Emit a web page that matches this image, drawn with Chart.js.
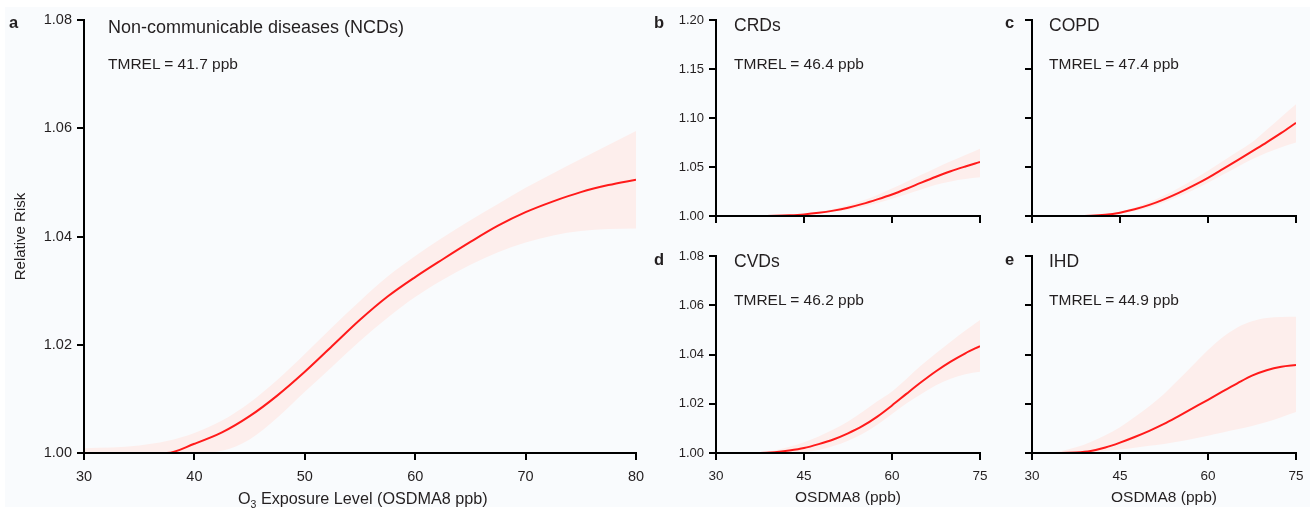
<!DOCTYPE html>
<html><head><meta charset="utf-8">
<script src="https://cdn.jsdelivr.net/npm/chart.js@4.4.0/dist/chart.umd.min.js"></script>
<style>
html,body{margin:0;padding:0;background:#fff;}
#wrap{position:relative;width:1315px;height:512px;overflow:hidden;background:#fff;font-family:"Liberation Sans",Arial,sans-serif;color:#231f20;}
#bg{position:absolute;left:5px;top:7px;width:1305px;height:500px;background:#f9fbfd;}
canvas{position:absolute;left:0;top:0;}
.t{position:absolute;white-space:nowrap;line-height:1;}
.ttl{font-size:17.5px;}
.tm{font-size:15.5px;}
.lt{font-size:16.5px;font-weight:bold;}
</style></head>
<body><div id="wrap"><div id="bg"></div>
<canvas id="ca" width="1315" height="512"></canvas>
<canvas id="cb" width="1315" height="512"></canvas>
<canvas id="cc" width="1315" height="512"></canvas>
<canvas id="cd" width="1315" height="512"></canvas>
<canvas id="ce" width="1315" height="512"></canvas>
<div class="t lt" style="left:9px;top:14px;">a</div>
<div class="t ttl" style="left:108px;top:18px;font-size:18px;">Non-communicable diseases (NCDs)</div>
<div class="t tm" style="left:108px;top:56px;">TMREL = 41.7 ppb</div>
<div class="t lt" style="left:654px;top:14px;">b</div>
<div class="t ttl" style="left:734px;top:17px;">CRDs</div>
<div class="t tm" style="left:734px;top:55.5px;">TMREL = 46.4 ppb</div>
<div class="t lt" style="left:1005px;top:14px;">c</div>
<div class="t ttl" style="left:1049px;top:17px;">COPD</div>
<div class="t tm" style="left:1049px;top:55.5px;">TMREL = 47.4 ppb</div>
<div class="t lt" style="left:654px;top:251px;">d</div>
<div class="t ttl" style="left:734px;top:253px;">CVDs</div>
<div class="t tm" style="left:734px;top:291.5px;">TMREL = 46.2 ppb</div>
<div class="t lt" style="left:1005px;top:251px;">e</div>
<div class="t ttl" style="left:1049px;top:253px;">IHD</div>
<div class="t tm" style="left:1049px;top:291.5px;">TMREL = 44.9 ppb</div>
<div class="t" style="left:238px;top:490px;font-size:16.2px;">O<sub style="font-size:10.5px;line-height:0;">3</sub> Exposure Level (OSDMA8 ppb)</div>
</div>
<script>
// ---- data ----
const xA = [30,32.5,35,37.5,40,42.5,45,47.5,50,52.5,55,57.5,60,62.5,65,67.5,70,72.5,75,77.5,80];
const ncdMean  = [1.0000,1.0000,1.0000,1.0000,1.0017,1.0038,1.0068,1.0106,1.0150,1.0198,1.0246,1.0289,1.0325,1.0358,1.0390,1.0420,1.0445,1.0465,1.0482,1.0495,1.0505];
const ncdUpper = [1.0009,1.0010,1.0014,1.0022,1.0037,1.0060,1.0093,1.0135,1.0183,1.0233,1.0281,1.0326,1.0364,1.0398,1.0430,1.0460,1.0490,1.0517,1.0543,1.0569,1.0595];
const ncdLower = [1.0000,1.0000,1.0000,1.0000,1.0000,1.0004,1.0025,1.0065,1.0113,1.0160,1.0207,1.0250,1.0288,1.0320,1.0348,1.0371,1.0389,1.0402,1.0410,1.0414,1.0415];

const xS = [30,32.5,35,37.5,40,42.5,45,47.5,50,52.5,55,57.5,60,62.5,65,67.5,70,72.5,75];
const crdMean  = [1.0000,1.0000,1.0000,1.0000,1.0002,1.0007,1.0016,1.0032,1.0055,1.0085,1.0124,1.0170,1.0220,1.0278,1.0340,1.0400,1.0456,1.0505,1.0551];
const crdUpper = [1.0000,1.0000,1.0000,1.0000,1.0003,1.0009,1.0020,1.0042,1.0072,1.0110,1.0158,1.0215,1.0280,1.0350,1.0420,1.0490,1.0558,1.0623,1.0687];
const crdLower = [1.0000,1.0000,1.0000,1.0000,1.0000,1.0005,1.0012,1.0024,1.0042,1.0065,1.0095,1.0132,1.0175,1.0222,1.0270,1.0318,1.0353,1.0378,1.0395];

const copdMean  = [1.0000,1.0000,1.0000,1.0000,1.0002,1.0012,1.0034,1.0068,1.0113,1.0170,1.0236,1.0310,1.0390,1.0478,1.0568,1.0660,1.0752,1.0848,1.0950];
const copdUpper = [1.0000,1.0000,1.0000,1.0000,1.0004,1.0016,1.0045,1.0088,1.0142,1.0208,1.0285,1.0370,1.0462,1.0558,1.0655,1.0752,1.0880,1.1010,1.1140];
const copdLower = [1.0000,1.0000,1.0000,1.0000,1.0000,1.0008,1.0024,1.0050,1.0088,1.0138,1.0198,1.0265,1.0340,1.0420,1.0500,1.0578,1.0645,1.0702,1.0750];

const cvdMean  = [1.0000,1.0000,1.0000,1.0000,1.0003,1.0010,1.0020,1.0036,1.0055,1.0080,1.0110,1.0148,1.0193,1.0241,1.0288,1.0332,1.0371,1.0405,1.0434];
const cvdUpper = [1.0000,1.0000,1.0000,1.0003,1.0010,1.0025,1.0044,1.0067,1.0095,1.0128,1.0168,1.0210,1.0250,1.0302,1.0356,1.0405,1.0452,1.0497,1.0540];
const cvdLower = [1.0000,1.0000,1.0000,1.0000,1.0000,1.0000,1.0003,1.0012,1.0028,1.0050,1.0078,1.0115,1.0158,1.0202,1.0240,1.0275,1.0302,1.0320,1.0330];

const ihdMean  = [1.0000,1.0000,1.0000,1.0002,1.0008,1.0022,1.0042,1.0065,1.0090,1.0118,1.0150,1.0183,1.0216,1.0250,1.0283,1.0314,1.0336,1.0350,1.0357];
const ihdUpper = [1.0000,1.0002,1.0008,1.0023,1.0045,1.0072,1.0105,1.0146,1.0190,1.0240,1.0298,1.0358,1.0418,1.0470,1.0510,1.0535,1.0548,1.0552,1.0553];
const ihdLower = [1.0000,1.0000,1.0000,1.0000,1.0003,1.0008,1.0014,1.0021,1.0029,1.0037,1.0047,1.0058,1.0070,1.0083,1.0096,1.0110,1.0126,1.0145,1.0166];

const xRangeA = [30, 80, 10];
const xRangeS = [30, 75, 15];
const yRangeSmall = [1.00, 1.08, 0.02];
const yRangeLarge = [1.00, 1.20, 0.05];

// ---- styles ----
const LINE = '#ff1a1a';
const BAND = '#fdeeec';
const INK = '#231f20';
const FONT = '"Liberation Sans", Arial, sans-serif';
const NARROW = '"Liberation Sans Narrow", "Arial Narrow", "Liberation Sans", Arial, sans-serif';

function pts(xs, ys){ return xs.map((x,i)=>({x:x, y:ys[i]})); }

function panel(id, o){
  const ctx = document.getElementById(id);
  new Chart(ctx, {
    type: 'line',
    data: { datasets: [
      {data: pts(o.x, o.up), order:1, borderWidth:0, pointRadius:0, backgroundColor:BAND, fill:'+1', cubicInterpolationMode:'monotone'},
      {data: pts(o.x, o.lo), order:2, borderWidth:0, pointRadius:0, fill:false, cubicInterpolationMode:'monotone'},
      {data: pts(o.x, o.mean), order:0, borderColor:LINE, borderWidth:2, pointRadius:0, fill:false, cubicInterpolationMode:'monotone'}
    ]},
    options: {
      responsive:false, animation:false, devicePixelRatio:1,
      layout:{padding:{left:o.padL, right:o.padR, top:o.padT, bottom:o.padB}},
      plugins:{legend:{display:false}, tooltip:{enabled:false}},
      scales:{
        x:{type:'linear', min:o.xr[0], max:o.xr[1],
           afterFit:(s)=>{s.height=o.xH;},
           border:{display:true,color:'#000',width:2,z:1},
           grid:{display:true,drawOnChartArea:false,drawTicks:true,tickLength:7,color:'#000',lineWidth:2,z:1},
           ticks:{display:o.xLab, stepSize:o.xr[2], padding:8, color:INK, font:{family:o.tickFam||FONT,size:o.xFont||13.5}, maxRotation:0},
           title:{display:!!o.xTitle, text:o.xTitle||'', color:INK, font:{family:FONT,size:15.5}, padding:{top:0,bottom:5}}
        },
        y:{type:'linear', min:o.yr[0], max:o.yr[1],
           afterFit:(s)=>{s.width=o.yW;},
           border:{display:true,color:'#000',width:2,z:1},
           grid:{display:true,drawOnChartArea:false,drawTicks:true,tickLength:7,color:'#000',lineWidth:2,z:1},
           ticks:{display:o.yLab, stepSize:o.yr[2], padding:5, color:INK, font:{family:o.tickFam||FONT,size:o.yFont||13}},
           title:{display:!!o.yTitle, text:o.yTitle||'', color:INK, font:{family:FONT,size:15}, padding:{top:12,bottom:0}}
        }
      }
    }
  });
}

panel('ca', {x:xA, mean:ncdMean, up:ncdUpper, lo:ncdLower, xr:xRangeA, yr:yRangeSmall,
  yW:84, padL:0, padR:1315-636, padT:20, xH:59, padB:0, xLab:true, yLab:true,
  tickFam:NARROW, xFont:14.5, yFont:14.5, yTitle:'Relative Risk'});
panel('cb', {x:xS, mean:crdMean, up:crdUpper, lo:crdLower, xr:xRangeS, yr:yRangeLarge,
  yW:60, padL:656, padR:1315-980, padT:20, xH:20, padB:512-216-20, xLab:false, yLab:true});
panel('cc', {x:xS, mean:copdMean, up:copdUpper, lo:copdLower, xr:xRangeS, yr:yRangeLarge,
  yW:30, padL:1002, padR:1315-1296, padT:20, xH:20, padB:512-216-20, xLab:false, yLab:false});
panel('cd', {x:xS, mean:cvdMean, up:cvdUpper, lo:cvdLower, xr:xRangeS, yr:yRangeSmall,
  yW:60, padL:656, padR:1315-980, padT:256, xH:59, padB:0, xLab:true, yLab:true, xTitle:'OSDMA8 (ppb)'});
panel('ce', {x:xS, mean:ihdMean, up:ihdUpper, lo:ihdLower, xr:xRangeS, yr:yRangeSmall,
  yW:30, padL:1002, padR:1315-1296, padT:256, xH:59, padB:0, xLab:true, yLab:false, xTitle:'OSDMA8 (ppb)'});
</script>
</body></html>
